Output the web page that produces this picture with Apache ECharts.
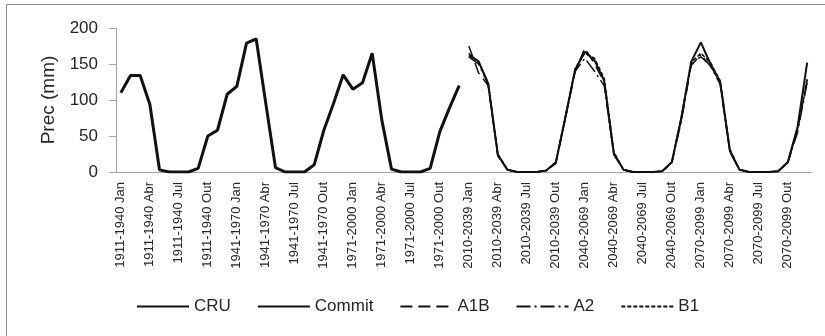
<!DOCTYPE html>
<html>
<head>
<meta charset="utf-8">
<script src="https://cdn.jsdelivr.net/npm/echarts@6/dist/echarts.min.js"></script>
<style>html,body{margin:0;padding:0;background:#fff;}#c{width:825px;height:336px;}</style>
</head>
<body>
<div id="c"></div>
<script>
var periods = ["1911-1940","1941-1970","1971-2000","2010-2039","2040-2069","2070-2099"];
var months = ["Jan","Fev","Mar","Abr","Mai","Jun","Jul","Ago","Set","Out","Nov","Dez"];
var categories = [];
periods.forEach(function(p){ months.forEach(function(m){ categories.push(p + " " + m); }); });

var cru = [110,134,134,94,3,0,0,0,5,50,58,108,
           119,179,185,95,6,0,0,0,10,58,95,135,
           115,124,165,72,4,0,0,0,5,56,89,120];
var commit = [162,154,123,24,3,0,0,0,2,13,77,142,
              167,155,127,26,3,0,0,0,1,14,76,153,
              180,150,125,30,3,0,0,0,1,14,62,152];
var a1b = [175,138,120,22,3,0,0,0,2,13,75,140,
           172,150,125,24,3,0,0,0,1,13,74,150,
           160,148,124,28,3,0,0,0,1,13,58,128];
var a2 = [160,150,122,23,3,0,0,0,2,12,76,140,
          158,140,120,25,3,0,0,0,1,13,72,148,
          163,147,122,29,3,0,0,0,1,13,55,124];
var b1 = [165,152,124,25,3,0,0,0,2,14,78,144,
          165,158,130,28,3,0,0,0,1,14,78,152,
          165,152,127,32,3,0,0,0,1,14,60,130];

var nulls = new Array(36).fill(null);
function hist(a){ return a.concat(nulls); }
function fut(a){ return nulls.concat(a); }

var FONT = "Liberation Sans";
var chart = echarts.init(document.getElementById('c'), null, {renderer:'canvas'});
function mk(name, data, width, type){
  return {name:name, type:'line', data:data, symbol:'none', showSymbol:false, connectNulls:false,
    lineStyle:{color:'#111', width:width, type:type}, itemStyle:{color:'#111'}, z: 2};
}
chart.setOption({
  animation:false,
  textStyle:{fontFamily:FONT},
  graphic:[{type:'rect', shape:{x:6.5,y:4.5,width:900,height:400}, style:{fill:'none', stroke:'#8c8c8c', lineWidth:1}, silent:true}],
  grid:{left:116, right:13, top:28, bottom:164},
  legend:{
    left:131, top:293, itemWidth:52, itemHeight:14, itemGap:26,
    itemStyle:{opacity:0},
    textStyle:{fontSize:17, color:'#262626', fontFamily:FONT},
    data:['CRU','Commit','A1B','A2','B1']
  },
  xAxis:{
    type:'category', data:categories, boundaryGap:true,
    axisLine:{lineStyle:{color:'#a6a6a6'}},
    axisTick:{interval:2, alignWithLabel:false, length:6, lineStyle:{color:'#a6a6a6'}},
    axisLabel:{interval:2, rotate:90, fontSize:13, color:'#262626', margin:10, fontFamily:FONT}
  },
  yAxis:{
    type:'value', min:0, max:200, interval:50,
    name:'Prec (mm)', nameLocation:'middle', nameGap:56, nameRotate:90,
    nameTextStyle:{fontSize:19, color:'#262626', fontFamily:FONT},
    axisLine:{show:true, lineStyle:{color:'#a6a6a6'}},
    axisTick:{show:true, length:7, lineStyle:{color:'#a6a6a6'}},
    splitLine:{show:false},
    axisLabel:{fontSize:17, color:'#262626', margin:18, fontFamily:FONT}
  },
  series:[
    mk('CRU', hist(cru), 3, 'solid'),
    mk('Commit', fut(commit), 2, 'solid'),
    mk('A1B', fut(a1b), 1.5, [12,6]),
    mk('A2', fut(a2), 1.5, [14,4,2,4]),
    mk('B1', fut(b1), 1.5, [4,2])
  ]
});
</script>
</body>
</html>
